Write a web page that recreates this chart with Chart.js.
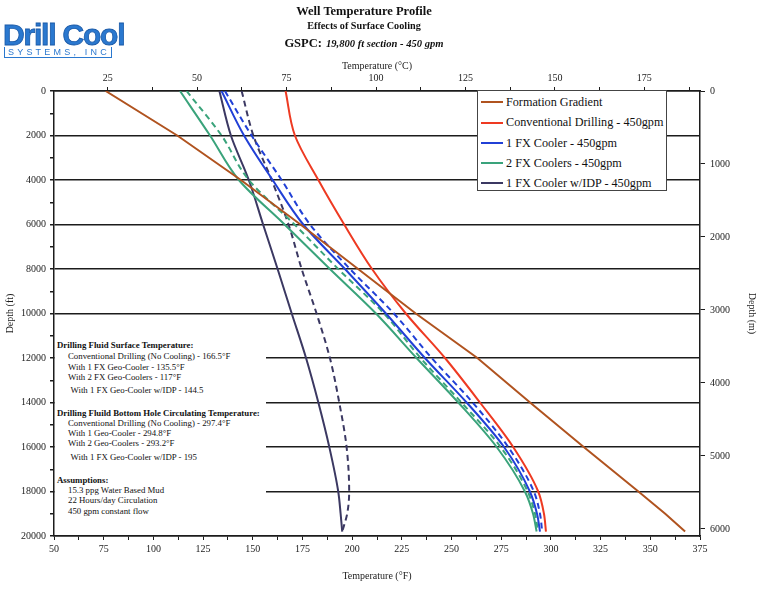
<!DOCTYPE html>
<html><head><meta charset="utf-8">
<script src="https://cdn.jsdelivr.net/npm/chart.js@4.4.1/dist/chart.umd.min.js"></script>
<style>
html,body{margin:0;padding:0;background:#fff;}
body{width:768px;height:591px;overflow:hidden;position:relative;font-family:"Liberation Serif","Times New Roman",serif;color:#111;}
#cv{position:absolute;left:0;top:0;width:768px;height:591px;}
.t{position:absolute;white-space:nowrap;font-weight:bold;text-align:center;left:214px;width:300px;}
#logo1{position:absolute;left:3px;top:18px;font-family:"Liberation Sans",Arial,sans-serif;font-weight:bold;font-size:30px;letter-spacing:-1.2px;color:#2a78cf;-webkit-text-stroke:0.8px #1a5aa8;}
#logo2{position:absolute;left:4px;top:47px;font-family:"Liberation Sans",Arial,sans-serif;font-size:9px;letter-spacing:3.2px;color:#2a78cf;border:1px solid #2a78cf;border-top:none;padding:0 1px 0 3px;line-height:10px;}
#notes{position:absolute;left:55px;top:337px;width:211px;height:197px;background:#fff;}
#notes div{position:absolute;white-space:nowrap;font-size:8.8px;line-height:11px;}
#notes .b{font-weight:bold;}
#legend{position:absolute;left:477px;top:90px;width:190px;height:101px;background:#fff;border:1px solid #444;box-sizing:border-box;}
#legend .row{position:absolute;left:3px;height:16px;white-space:nowrap;font-size:12.2px;line-height:16px;}
#legend .sw{display:inline-block;width:22px;height:0;border-top:2.5px solid;vertical-align:middle;margin-right:3px;position:relative;top:-1px;}
</style></head>
<body>
<canvas id="cv" width="768" height="591"></canvas>
<div id="logo1">Drill Cool</div>
<div id="logo2">SYSTEMS, INC</div>
<div class="t" style="top:4px;font-size:12.5px;">Well Temperature Profile</div>
<div class="t" style="top:20px;font-size:10.2px;">Effects of Surface Cooling</div>
<div class="t" style="top:33px;"><span style="font-size:12.5px;">GSPC:</span> <i style="font-size:10.6px;">19,800 ft section - 450 gpm</i></div>
<div id="notes"></div>
<div id="legend"></div>
<script>
// ---- data ----
const depthFt = [0, 2000, 4000, 6000, 8000, 10000, 12000, 14000, 16000, 18000, 19000, 19800];
const formationGradient = [76, 112, 144, 174, 203, 232, 263, 289.5, 316.5, 344, 357.5, 367.5];
const conventional      = [166.5, 171.2, 183, 196, 210, 227, 246.7, 264.3, 281, 293.6, 296.5, 297.5];
const fx1Solid          = [134.3, 145.6, 160, 175.4, 196.4, 217, 236.6, 257.6, 276.4, 289.4, 293, 294.5];
const fx1Dashed         = [136, 149.4, 164.5, 178.8, 198.9, 221, 240, 260.6, 278.5, 291.4, 294.5, 295.6];
const fx2Solid          = [113.4, 128.5, 143, 166, 188.8, 212, 232.4, 253.4, 272.7, 286.9, 291, 292.8];
const fx2Dashed         = [116.7, 134.3, 148, 171, 193, 216, 234.4, 255, 274.7, 288.3, 292, 293.5];
const idpSolid          = [133.2, 139, 148, 155.2, 162.5, 169.6, 176.8, 183, 188.5, 193, 194.2, 195];
const idpDashed         = [144.4, 150.3, 159.5, 168, 174.6, 182.1, 188.8, 193.5, 197.2, 198.5, 197.5, 195];

const legendLabels = ["Formation Gradient", "Conventional Drilling - 450gpm", "1 FX Cooler - 450gpm", "2 FX Coolers - 450gpm", "1 FX Cooler w/IDP - 450gpm"];

// tick labels
const fTickLabels  = [50, 75, 100, 125, 150, 175, 200, 225, 250, 275, 300, 325, 350, 375];
const cTickLabels  = [25, 50, 75, 100, 125, 150, 175];
const ftTickLabels = [0, 2000, 4000, 6000, 8000, 10000, 12000, 14000, 16000, 18000, 20000];
const mTickLabels  = [0, 1000, 2000, 3000, 4000, 5000, 6000];

const notes = [
  ["b", "Drilling Fluid Surface Temperature:"],
  ["", "Conventional Drilling (No Cooling) - 166.5°F"],
  ["", "With 1 FX Geo-Cooler - 135.5°F"],
  ["", "With 2 FX Geo-Coolers - 117°F"],
  ["i", "With 1 FX Geo-Cooler w/IDP - 144.5"],
  ["b", "Drilling Fluild Bottom Hole Circulating Temperature:"],
  ["", "Conventional Drilling (No Cooling) - 297.4°F"],
  ["", "With 1 Geo-Cooler - 294.8°F"],
  ["", "With 2 Geo-Coolers - 293.2°F"],
  ["i", "With 1 FX Geo-Cooler w/IDP - 195"],
  ["b", "Assumptions:"],
  ["", "15.3 ppg Water Based Mud"],
  ["", "22 Hours/day Circulation"],
  ["", "450 gpm constant flow"]
];
// ---- styles ----
const C = {brown:'#b0531f', red:'#ee3a22', blue:'#2140d6', green:'#3aa37b', navy:'#3b3862'};
const noteTops = [8, 19.5, 30, 40.5, 53, 76, 86.5, 96, 106.5, 120, 143, 153, 163, 174];
const noteLefts = {b:2, "":13, i:15.5};

const notesEl = document.getElementById('notes');
notes.forEach((n, i) => {
  const d = document.createElement('div');
  d.textContent = n[1];
  if (n[0] === 'b') d.className = 'b';
  d.style.left = noteLefts[n[0]] + 'px';
  d.style.top = (noteTops[i] - 5.5) + 'px';
  notesEl.appendChild(d);
});
const legColors = [C.brown, C.red, C.blue, C.green, C.navy];
const legEl = document.getElementById('legend');
legendLabels.forEach((l, i) => {
  const r = document.createElement('div');
  r.className = 'row';
  r.style.top = (3 + i * 20.3) + 'px';
  r.innerHTML = '<span class="sw" style="border-color:' + legColors[i] + '"></span>';
  r.appendChild(document.createTextNode(l));
  legEl.appendChild(r);
});

function series(temps, color, dashed) {
  return {
    data: depthFt.map((d, i) => ({x: temps[i], y: d})),
    borderColor: color, backgroundColor: color, borderWidth: 2,
    borderDash: dashed ? [6, 4] : [], pointRadius: 0, fill: false,
    cubicInterpolationMode: 'monotone', xAxisID: 'x', yAxisID: 'y'
  };
}
const mids = arr => arr.slice(0, -1).map((v, i) => (v + arr[i + 1]) / 2);
const withMinor = arr => arr.concat(mids(arr)).sort((a, b) => a - b);
const fTicks = withMinor(fTickLabels);
const cTicks = withMinor(cTickLabels).concat([cTickLabels[cTickLabels.length - 1] + 12.5]);
const ftTicks = withMinor(ftTickLabels);

const tickFont = {family: 'Liberation Serif', size: 10};
const titleFont = {family: 'Liberation Serif', size: 10};
const axisCol = '#1c1c1c';
const setTicks = vals => (s) => { s.ticks = vals.map(v => ({value: v})); };
const labelIf = set => (v) => set.includes(v) ? String(v) : '';

const brownDs = series(formationGradient, C.brown, false);
brownDs.cubicInterpolationMode = 'default'; brownDs.tension = 0;

new Chart(document.getElementById('cv'), {
  type: 'line',
  data: {datasets: [
    brownDs,
    series(conventional, C.red, false),
    series(fx1Solid, C.blue, false),
    series(fx1Dashed, C.blue, true),
    series(fx2Solid, C.green, false),
    series(fx2Dashed, C.green, true),
    series(idpSolid, C.navy, false),
    series(idpDashed, C.navy, true)
  ]},
  options: {
    indexAxis: 'y', responsive: false, animation: false,
    layout: {padding: {top: 55, left: 0, right: 0, bottom: 4}},
    plugins: {legend: {display: false}, tooltip: {enabled: false}, title: {display: false}},
    scales: {
      x: {
        type: 'linear', position: 'bottom', min: 50, max: 375,
        afterBuildTicks: setTicks(fTicks), afterFit: s => { s.height = 51; },
        ticks: {font: tickFont, color: axisCol, autoSkip: false, maxRotation: 0, padding: 3, callback: labelIf(fTickLabels)},
        grid: {drawOnChartArea: false, tickLength: 4, tickColor: axisCol, lineWidth: 1},
        border: {color: axisCol, width: 1.5},
        title: {display: true, text: 'Temperature (°F)', font: titleFont, color: axisCol, padding: {top: 0, bottom: 5}}
      },
      x2: {
        type: 'linear', position: 'top', min: (50 - 32) / 1.8, max: (375 - 32) / 1.8,
        afterBuildTicks: setTicks(cTicks), afterFit: s => { s.height = 36; },
        ticks: {font: tickFont, color: axisCol, autoSkip: false, maxRotation: 0, padding: 3, callback: labelIf(cTickLabels)},
        grid: {drawOnChartArea: false, tickLength: 4, tickColor: axisCol, lineWidth: 1},
        border: {color: axisCol, width: 1.5},
        title: {display: true, text: 'Temperature (°C)', font: titleFont, color: axisCol, padding: {top: 5, bottom: 0}}
      },
      y: {
        type: 'linear', position: 'left', reverse: true, min: 0, max: 20000,
        afterBuildTicks: setTicks(ftTicks), afterFit: s => { s.width = 54; },
        ticks: {font: tickFont, color: axisCol, autoSkip: false, padding: 4, callback: labelIf(ftTickLabels)},
        grid: {
          tickLength: 4, tickColor: axisCol, lineWidth: 1.5,
          color: ctx => (ctx.tick && ftTickLabels.includes(ctx.tick.value)) ? axisCol : 'rgba(0,0,0,0)'
        },
        border: {color: axisCol, width: 1.5},
        title: {display: true, text: 'Depth (ft)', font: titleFont, color: axisCol, padding: {top: 4, bottom: 0}}
      },
      y2: {
        type: 'linear', position: 'right', reverse: true, min: 0, max: 20000 * 0.3048,
        afterBuildTicks: setTicks(mTickLabels), afterFit: s => { s.width = 68; },
        ticks: {font: tickFont, color: axisCol, autoSkip: false, padding: 5, callback: labelIf(mTickLabels)},
        grid: {drawOnChartArea: false, tickLength: 5, tickColor: axisCol, lineWidth: 1},
        border: {color: axisCol, width: 1.5},
        title: {display: true, text: 'Depth (m)', font: titleFont, color: axisCol, padding: {top: 10, bottom: 0}}
      }
    }
  }
});
</script>
</body></html>
